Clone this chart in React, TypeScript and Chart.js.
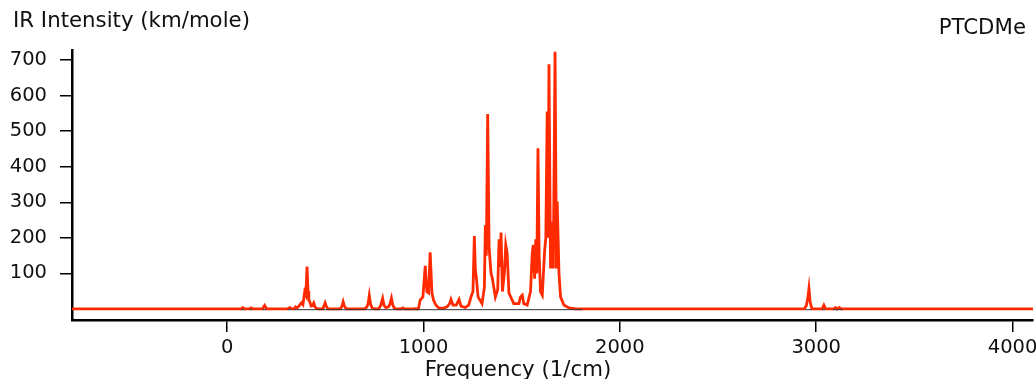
import React, { useEffect, useRef } from "react";
import { Chart, registerables } from "chart.js";

Chart.register(...registerables);

// Broadened IR spectrum (frequency in 1/cm, intensity in km/mole)
const spectrumFreq = [
  -800, 60, 72, 80, 88, 115, 123, 131, 180, 191, 202, 307, 319, 331,
  340, 348, 356, 364, 372, 378, 386, 395, 401, 407, 412, 416, 421, 428, 434, 441, 448, 458, 470,
  487, 493, 499, 505, 514,
  576, 585, 591, 597, 608,
  700, 712, 718, 724, 730, 738, 750,
  772, 782, 792, 799, 808, 822, 830, 837, 843, 852, 864,
  886, 895, 903, 948, 958, 968,
  975, 983, 997, 1009, 1017, 1026, 1034, 1043, 1051, 1063, 1077, 1100, 1120, 1133, 1140, 1150,
  1158, 1167, 1181, 1191, 1213, 1230, 1242, 1252, 1259, 1264, 1269, 1278, 1298, 1310, 1315,
  1320, 1327, 1334, 1344, 1351, 1366, 1378, 1385, 1390, 1395, 1402, 1412, 1419, 1426, 1435,
  1460, 1486, 1494, 1503, 1511, 1528, 1545, 1554, 1559, 1566, 1572, 1577, 1583, 1589, 1596,
  1605, 1617, 1623, 1630, 1634, 1639, 1647, 1656, 1661, 1670, 1677, 1681, 1690, 1698, 1715,
  1741, 1775, 2940, 2950, 2957, 2963, 2969, 2978, 3030, 3039, 3048, 3090, 3098, 3106, 3118,
  3125, 3132, 4110,
];
const spectrumIntensity = [
  0, 0, 0, 4, 0, 0, 3, 0, 0, 10, 0, 0, 4, 0,
  0, 6, 3, 7, 13, 17, 12, 48, 40, 119, 50, 25, 20, 8, 9, 17, 5, 1, 0,
  0, 8, 17, 8, 0,
  0, 8, 20, 8, 0,
  0, 6, 15, 38, 15, 3, 0,
  0, 10, 30, 10, 4, 6, 15, 30, 12, 2, 0,
  0, 3, 0, 0, 1, 0,
  2, 25, 34, 121, 49, 45, 159, 45, 25, 11, 3, 2, 6, 15, 27, 11,
  11, 11, 27, 8, 4, 11, 34, 49, 205, 110, 89, 34, 15, 60, 235,
  150, 548, 174, 100, 85, 34, 55, 196, 118, 215, 49, 102, 180, 157, 45,
  15, 15, 34, 39, 15, 11, 49, 157, 180, 85, 196, 100, 452, 150, 49,
  39, 165, 200, 555, 200, 688, 114, 245, 114, 723, 114, 302, 100, 34, 11,
  3, 0, 0, 10, 30, 58, 20, 0, 0, 11, 0, 0, 4, 0, 4,
  0, 0, 0,
];

// Thin black baseline under the modes (null = gap)
const baselineFreq = [70, 88, null, 115, 129, null, 180, 200, null, 307, 330, null, 340, 1809, null, 2945, 2975, null, 3030, 3045, null, 3085, 3135];
const baselineValue = [-2, -2, null, -2, -2, null, -2, -2, null, -2, -2, null, -2, -2, null, -2, -2, null, -2, -2, null, -2, -2];

const xTickValues = [0, 1000, 2000, 3000, 4000];
const yTickValues = [100, 200, 300, 400, 500, 600, 700];
const xRange = [-790, 4104];
const yRange = [-31, 728];

const yTitle = "IR Intensity (km/mole)";
const xTitle = "Frequency (1/cm)";
const moleculeName = "PTCDMe";

const FONT = "'DejaVu Sans', sans-serif";

const textPlugin = {
  id: "spectrumTexts",
  afterDraw(chart: any) {
    const ctx = chart.ctx;
    ctx.save();
    ctx.fillStyle = "#111";
    ctx.font = `21.3px ${FONT}`;
    ctx.textBaseline = "alphabetic";
    ctx.textAlign = "left";
    ctx.fillText(yTitle, 13, 27);
    ctx.textAlign = "right";
    ctx.fillText(moleculeName, chart.width - 10, 34);
    ctx.textAlign = "center";
    ctx.fillText(xTitle, chart.width / 2, 376);
    ctx.restore();
  },
};

const noPad = (scale: any) => {
  scale.paddingLeft = 0;
  scale.paddingRight = 0;
  scale.paddingTop = 0;
  scale.paddingBottom = 0;
};

export default function App() {
  const ref = useRef<HTMLCanvasElement | null>(null);

  useEffect(() => {
    const canvas = ref.current;
    if (!canvas) return;
    const redData = spectrumFreq.map((f, i) => ({ x: f, y: spectrumIntensity[i] }));
    const blackData = baselineFreq.map((f, i) => ({ x: f as any, y: baselineValue[i] as any }));
    const chart = new Chart(canvas, {
      type: "line",
      data: {
        datasets: [
          {
            data: blackData,
            borderColor: "#333333",
            borderWidth: 1,
            pointRadius: 0,
            spanGaps: false,
            tension: 0,
          },
          {
            data: redData,
            borderColor: "#ff2a00",
            borderWidth: 2.8,
            pointRadius: 0,
            tension: 0,
          },
        ],
      },
      plugins: [textPlugin],
      options: {
        animation: false,
        responsive: false,
        maintainAspectRatio: false,
        parsing: false as any,
        layout: { padding: { top: 50, right: 3, left: 0, bottom: 0 } },
        plugins: {
          legend: { display: false },
          tooltip: { enabled: false },
          title: { display: false },
        },
        scales: {
          x: {
            type: "linear",
            min: xRange[0],
            max: xRange[1],
            afterBuildTicks: (scale: any) => {
              scale.ticks = xTickValues.map((v) => ({ value: v }));
            },
            afterFit: (scale: any) => {
              scale.height = 59;
              noPad(scale);
            },
            border: { display: true, color: "#000", width: 2.5 },
            grid: {
              drawOnChartArea: false,
              drawTicks: true,
              tickLength: 12,
              tickColor: "#000",
              lineWidth: 1.5,
            },
            ticks: {
              color: "#111",
              font: { family: FONT, size: 19.5 },
              padding: 4,
              maxRotation: 0,
              autoSkip: false,
              callback: (v: any) => String(v),
            },
          },
          y: {
            type: "linear",
            min: yRange[0],
            max: yRange[1],
            afterBuildTicks: (scale: any) => {
              scale.ticks = yTickValues.map((v) => ({ value: v }));
            },
            afterFit: (scale: any) => {
              scale.width = 72;
              noPad(scale);
            },
            border: { display: true, color: "#000", width: 2.5 },
            grid: {
              drawOnChartArea: false,
              drawTicks: true,
              tickLength: 12,
              tickColor: "#000",
              lineWidth: 1.5,
            },
            ticks: {
              color: "#111",
              font: { family: FONT, size: 19.5 },
              padding: 13,
              autoSkip: false,
              callback: (v: any) => String(v),
            },
          },
        },
      },
    });
    return () => chart.destroy();
  }, []);

  return (
    <div style={{ position: "fixed", left: 0, top: 0, width: 1036, height: 379, background: "#fff" }}>
      <canvas ref={ref} width={1036} height={379} style={{ display: "block", width: 1036, height: 379 }} />
    </div>
  );
}
